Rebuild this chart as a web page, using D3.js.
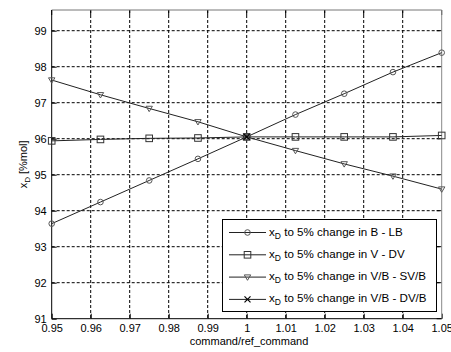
<!DOCTYPE html>
<html><head><meta charset="utf-8">
<script src="https://cdn.jsdelivr.net/npm/d3@7"></script>
<style>body{margin:0;background:#fff}svg{display:block}text{font-family:"Liberation Sans",Arial,sans-serif}</style>
</head><body><svg id="c" width="451" height="352"></svg>
<script>
const xValues = [0.95, 0.9625, 0.975, 0.9875, 1.0, 1.0125, 1.025, 1.0375, 1.05];
const seriesB_LB = [93.64, 94.24, 94.84, 95.44, 96.05, 96.67, 97.25, 97.85, 98.39];
const seriesV_DV = [95.94, 95.98, 96.01, 96.02, 96.05, 96.05, 96.05, 96.05, 96.09];
const seriesVB_SVB = [97.63, 97.22, 96.84, 96.47, 96.05, 95.67, 95.30, 94.96, 94.60];
const seriesVB_DVB_x = [1.0];
const seriesVB_DVB = [96.05];
const xTicks = [0.95, 0.96, 0.97, 0.98, 0.99, 1, 1.01, 1.02, 1.03, 1.04, 1.05];
const yTicks = [91, 92, 93, 94, 95, 96, 97, 98, 99];
const legendLabels = ["to 5% change in B - LB", "to 5% change in V - DV", "to 5% change in V/B - SV/B", "to 5% change in V/B - DV/B"];
const markerTypes = ["circle", "square", "triangle", "cross"];

const svg = d3.select("#c");
const L = 51.7, R = 441.7, T = 10, B = 318.7;
const x = d3.scaleLinear().domain([0.95, 1.05]).range([L, R]);
const y = d3.scaleLinear().domain([91, 99.575]).range([B, T]);

// grid
const g = svg.append("g");
g.selectAll(".vg").data(xTicks.slice(1, -1)).join("line")
  .attr("x1", d => x(d)).attr("x2", d => x(d)).attr("y1", T).attr("y2", B)
  .attr("stroke", "#000").attr("stroke-dasharray", "3,2").attr("stroke-width", 1);
g.selectAll(".hg").data(yTicks.slice(1)).join("line")
  .attr("y1", d => y(d)).attr("y2", d => y(d)).attr("x1", L).attr("x2", R)
  .attr("stroke", "#000").attr("stroke-dasharray", "3,2").attr("stroke-width", 1);

// axes
const xAxis = d3.axisBottom(x).tickValues(xTicks).tickSize(-5).tickPadding(6)
  .tickFormat(d => (+d.toFixed(2)).toString());
const xa = svg.append("g").attr("transform", `translate(0,${B})`).call(xAxis);
const yAxis = d3.axisLeft(y).tickValues(yTicks).tickSize(-5).tickPadding(5);
const ya = svg.append("g").attr("transform", `translate(${L},0)`).call(yAxis);
[xa, ya].forEach(a => {
  a.select(".domain").remove();
  a.selectAll("line").attr("stroke", "#000");
  a.selectAll("text").attr("font-size", 11).attr("fill", "#000")
    .attr("font-family", '"Liberation Sans",Arial,sans-serif');
});
// top/right ticks
svg.append("g").selectAll("line").data(xTicks).join("line")
  .attr("x1", d => x(d)).attr("x2", d => x(d)).attr("y1", T).attr("y2", T + 5).attr("stroke", "#000");
svg.append("g").selectAll("line").data(yTicks).join("line")
  .attr("y1", d => y(d)).attr("y2", d => y(d)).attr("x1", R).attr("x2", R - 5).attr("stroke", "#000");
// box
svg.append("line").attr("x1", L).attr("x2", R).attr("y1", T).attr("y2", T).attr("stroke", "#777");
svg.append("line").attr("x1", R).attr("x2", R).attr("y1", T).attr("y2", B).attr("stroke", "#888");
svg.append("line").attr("x1", L).attr("x2", L).attr("y1", T).attr("y2", B).attr("stroke", "#000");
svg.append("line").attr("x1", L).attr("x2", R).attr("y1", B).attr("y2", B).attr("stroke", "#000");

function marker(sel, type) {
  const mc = "#555";
  if (type === "circle") sel.append("circle").attr("r", 2.8).attr("fill", "none").attr("stroke", mc);
  else if (type === "square") sel.append("rect").attr("x", -3.3).attr("y", -3.3).attr("width", 6.6).attr("height", 6.6).attr("fill", "none").attr("stroke", "#333");
  else if (type === "triangle") sel.append("path").attr("d", "M-3.2,-2.2L3.2,-2.2L0,3.2Z").attr("fill", "none").attr("stroke", mc);
  else sel.append("path").attr("d", "M-3,-3L3,3M-3,3L3,-3").attr("stroke", "#000").attr("stroke-width", 1.2);
}

const seriesList = [
  {xs: xValues, ys: seriesB_LB, m: "circle"},
  {xs: xValues, ys: seriesV_DV, m: "square"},
  {xs: xValues, ys: seriesVB_SVB, m: "triangle"},
  {xs: seriesVB_DVB_x, ys: seriesVB_DVB, m: "cross"}
];
const line = d3.line().x(d => x(d[0])).y(d => y(d[1]));
seriesList.forEach(s => {
  const pts = s.xs.map((v, i) => [v, s.ys[i]]);
  svg.append("path").attr("d", line(pts)).attr("fill", "none").attr("stroke", "#222").attr("stroke-width", 1);
  pts.forEach(p => {
    const gg = svg.append("g").attr("transform", `translate(${x(p[0])},${y(p[1])})`);
    marker(gg, s.m);
  });
});

// legend
const lg = svg.append("g");
lg.append("rect").attr("x", 222.5).attr("y", 219.5).attr("width", 214).attr("height", 92)
  .attr("fill", "#fff").attr("stroke", "#000");
legendLabels.forEach((lab, i) => {
  const yy = 232.5 + i * 22.3;
  lg.append("line").attr("x1", 229).attr("x2", 266).attr("y1", yy).attr("y2", yy).attr("stroke", "#222");
  marker(lg.append("g").attr("transform", `translate(247.5,${yy})`), markerTypes[i]);
  const t = lg.append("text").attr("x", 269).attr("y", yy + 3).attr("font-size", 11.6).attr("fill", "#000");
  t.append("tspan").text("x");
  t.append("tspan").attr("font-size", 8.5).attr("dy", 3).text("D");
  t.append("tspan").attr("dy", -3).text(" " + lab);
});

// axis labels
svg.append("text").attr("x", 249).attr("y", 345).attr("text-anchor", "middle")
  .attr("font-size", 11).attr("fill", "#000").text("command/ref_command");
const yl = svg.append("text").attr("transform", `translate(27,${(T + B) / 2}) rotate(-90)`)
  .attr("text-anchor", "middle").attr("font-size", 11).attr("fill", "#000");
yl.append("tspan").text("x");
yl.append("tspan").attr("font-size", 8).attr("dy", 3).text("D");
yl.append("tspan").attr("dy", -3).text(" [%mol]");
</script></body></html>
